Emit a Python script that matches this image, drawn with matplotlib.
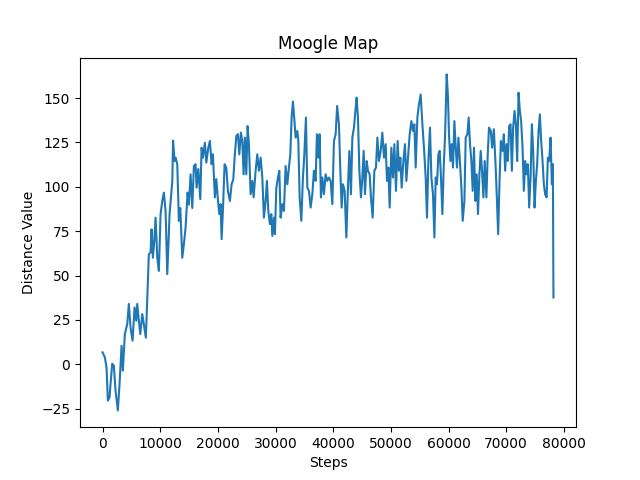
import matplotlib
matplotlib.use('Agg')
import matplotlib.pyplot as plt

# 读图估计的数据
steps = [0, 400, 694, 920, 1215, 1388, 1683, 1961, 2256, 2655, 2950, 3297, 3522, 3869, 4285,
         4563, 4858, 5205, 5552, 5847, 6020, 6298, 6541, 6888, 7235, 7513, 7755, 8033, 8328, 8502,
         8727, 8970, 9196, 9490, 9768, 10063, 10358, 10636, 10931, 11226, 11625, 12093, 12230, 12492, 12666,
         12960, 13238, 13481, 13828, 14106, 14401, 14748, 14973, 15268, 15563, 15841, 16136, 16309, 16604, 16951,
         17177, 17402, 17749, 17992, 18339, 18617, 18912, 19137, 19484, 19727, 20005, 20247, 20473, 20647, 20872,
         21167, 21462, 21740, 22087, 22382, 22677, 22902, 23197, 23475, 23717, 23995, 24238, 24464, 24689, 24932,
         25158, 25383, 25678, 25973, 26199, 26546, 26840, 27118, 27413, 27708, 27986, 28281, 28506, 28749, 29027,
         29269, 29443, 29721, 29894, 30137, 30415, 30657, 30883, 31178, 31456, 31751, 32045, 32323, 32566, 32792,
         33017, 33260, 33486, 33781, 33954, 34180, 34474, 34752, 34995, 35273, 35515, 35793, 36088, 36383, 36661,
         36956, 37181, 37424, 37650, 37875, 38118, 38396, 38691, 38985, 39263, 39558, 39853, 40131, 40426, 40686,
         40997, 41240, 41467, 41692, 41987, 42282, 42560, 42802, 43080, 43323, 43601, 43896, 44069, 44295, 44538,
         44815, 45058, 45284, 45509, 45804, 46030, 46325, 46550, 46845, 47140, 47418, 47661, 47939, 48233, 48528,
         48806, 49101, 49326, 49569, 49795, 50089, 50367, 50610, 50888, 51183, 51408, 51651, 51877, 52171, 52449,
         52692, 52970, 53265, 53559, 53837, 54080, 54306, 54600, 54878, 55173, 55468, 55746, 56041, 56266, 56509,
         56787, 57029, 57307, 57550, 57776, 58001, 58244, 58470, 58694, 58937, 59163, 59389, 59683, 59910, 60083,
         60326, 60551, 60777, 61020, 61246, 61471, 61714, 61940, 62234, 62460, 62755, 62981, 63275, 63501, 63726,
         63969, 64195, 64420, 64663, 64889, 65114, 65357, 65583, 65808, 66051, 66277, 66572, 66798, 67023, 67339,
         67565, 67862, 68157, 68383, 68608, 68851, 69077, 69371, 69597, 69822, 70065, 70291, 70516, 70759, 70985,
         71210, 71453, 71679, 71905, 72147, 72373, 72598, 72841, 73067, 73292, 73535, 73761, 73986, 74229, 74455,
         74680, 74923, 75149, 75374, 75617, 75843, 76068, 76311, 76537, 76762, 77005, 77231, 77456, 77699, 77925,
         78098, 78200]
distance = [6.7, 3.9, -1.8, -20.5, -18.6, -11, 0.3, -0.8, -15, -26, -11, 10.4, -3.6, 17, 22.6,
            34, 20.7, 13.3, 32, 24.5, 34, 24.5, 17, 28.3, 20.7, 15, 37.6, 62, 63, 76,
            60, 69.5, 82.6, 60, 52.6, 84.6, 92, 96.7, 86.4, 50.8, 84.6, 103, 126, 114.5, 116.4,
            112.7, 80.8, 88, 60, 67.7, 77, 96.7, 90, 107, 88, 111.7, 112.7, 99.5, 110, 93,
            122, 116.4, 124.8, 113.6, 122, 125.8, 112.7, 118.3, 94, 104.3, 93, 84.6, 90.2, 70.5, 86.4,
            112.7, 110.8, 97.7, 92, 101.4, 104.3, 116.4, 128.6, 129.6, 118.3, 130.5, 125.8, 107, 127.7, 107,
            134.2, 124, 95.8, 103.3, 94, 109, 118.3, 109, 116.4, 105.2, 82.6, 92, 103.3, 86.4, 79,
            84.6, 72.3, 82.6, 73.3, 99.5, 105, 109, 82.6, 90.2, 86.4, 111.7, 101.4, 110.8, 118.3, 139,
            148, 138, 127.7, 131.4, 125.8, 94, 80.8, 105, 118.3, 139, 99.5, 97.7, 88.3, 95.8, 109,
            103.3, 129.6, 116.4, 129.6, 94, 105.2, 95.8, 107, 103.3, 105.2, 103.3, 90.2, 125.8, 129.6, 145.5,
            135.2, 109, 88.3, 101.4, 97.7, 71.4, 99.5, 120.2, 95.8, 127.7, 133.3, 144.5, 150.2, 139, 109,
            94, 105.2, 120.2, 95.8, 114.5, 109, 107, 94, 82.6, 109, 110.8, 127.7, 114.5, 120.2, 130.5,
            116.4, 124, 103.3, 110.8, 88.3, 122, 105.2, 124, 97.7, 125.8, 109, 116.4, 99.5, 114.5, 124,
            103.3, 116.4, 129.6, 137, 131.4, 135.2, 110.8, 139, 146.5, 152, 135.2, 122, 105.2, 82.6, 114.5,
            133.3, 105.2, 95.8, 71.4, 105.2, 101.4, 118.3, 120.2, 105.2, 84.6, 110.8, 127.7, 163.3, 150.2, 129.6,
            114.5, 124, 110.8, 137, 122, 110.8, 127.7, 116.4, 99.5, 80.8, 92, 127.7, 129.6, 139, 124,
            114.5, 97.7, 122, 92, 107, 84.6, 107, 120.2, 109, 94, 114.5, 94, 118, 133.3, 131.4,
            122, 132.4, 112.7, 94, 73.3, 103.3, 125.8, 120.2, 129.6, 109, 124, 114.5, 134.2, 135.2, 109,
            133.3, 142.7, 135.2, 114.5, 153, 142.7, 137, 122, 97.7, 114.5, 107, 112.7, 88.3, 105.2, 135.2,
            120.2, 88.3, 103.3, 112.7, 131.4, 140.8, 125.8, 114.5, 101.4, 95.8, 94, 116.4, 114.5, 127.7, 101.4,
            112.7, 37.6]

fig, ax = plt.subplots(figsize=(6.4, 4.8), dpi=100)
ax.plot(steps, distance)
ax.set_title('Moogle Map')
ax.set_xlabel('Steps')
ax.set_ylabel('Distance Value')

plt.savefig('out.png')
plt.close('all')
